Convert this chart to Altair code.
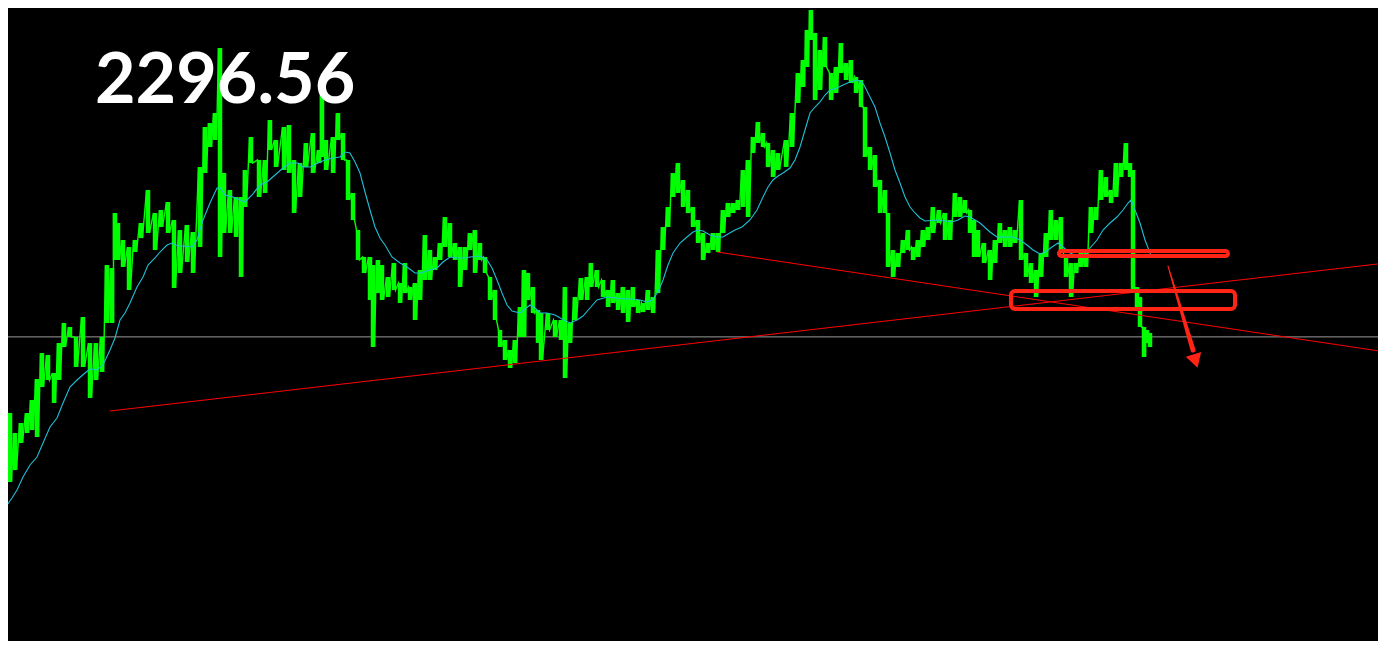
import altair as alt
import pandas as pd

# ---- price bars (bar index, high, low) ----
bar_x = [3, 10, 15, 21, 27, 32, 37, 42, 48, 54, 59, 64, 70, 76, 83, 90, 96, 102, 107, 112,
         115, 118, 123, 129, 135, 141, 148, 155, 161, 168, 174, 180, 187, 193, 200, 205, 210, 215, 220, 224,
         230, 236, 241, 245, 251, 259, 265, 270, 276, 284, 289, 294, 300, 306, 313, 319, 322, 326, 333, 338,
         343, 348, 353, 358, 364, 370, 373, 378, 382, 388, 394, 400, 405, 410, 415, 420, 425, 430, 435, 440,
         445, 450, 455, 460, 465, 470, 475, 480, 485, 490, 495, 500, 505, 510, 515, 520, 524, 528, 533, 538,
         541, 548, 555, 561, 565, 570, 575, 581, 587, 591, 597, 603, 608, 613, 618, 623, 628, 633, 638, 643,
         648, 653, 658, 663, 668, 673, 678, 683, 688, 693, 698, 703, 708, 713, 718, 723, 728, 733, 738, 743,
         748, 753, 758, 763, 768, 773, 778, 786, 792, 798, 803, 807, 811, 815, 820, 825, 831, 836, 841, 846,
         851, 856, 861, 865, 870, 875, 880, 885, 888, 893, 898, 903, 908, 913, 918, 923, 928, 933, 939, 945,
         950, 955, 960, 965, 970, 974, 978, 984, 990, 995, 1000, 1005, 1010, 1015, 1021, 1026, 1031, 1036, 1041, 1046,
         1051, 1056, 1061, 1066, 1071, 1076, 1081, 1086, 1091, 1096, 1101, 1106, 1111, 1116, 1121, 1126, 1130, 1133, 1137, 1140,
         1144, 1147, 1150]
bar_hi = [2263.5, 2258.5, 2248.5, 2253.5, 2258.5, 2265, 2275.5, 2288.5, 2287.5, 2278.5, 2293.5, 2303.5, 2301.5, 2296.5, 2306.5, 2293.5, 2293.5, 2296.5, 2332.5, 2331,
          2358.5, 2353.5, 2345, 2341.5, 2345, 2353.5, 2370, 2358.5, 2360, 2364, 2355, 2350, 2352.5, 2349, 2381.5, 2401.5, 2403.5, 2408.5, 2441, 2378.5,
          2370, 2366.5, 2366.5, 2380, 2396.5, 2385, 2385, 2405, 2395, 2401.5, 2402.5, 2385, 2383.5, 2393.5, 2398.5, 2390, 2417.5, 2395, 2396.5, 2408.5,
          2398.5, 2385, 2368.5, 2350, 2336.5, 2336.5, 2332.5, 2335, 2332.5, 2326.5, 2333.5, 2323.5, 2333.5, 2321.5, 2323.5, 2330, 2347.5, 2340, 2336.5, 2343.5,
          2356.5, 2353.5, 2343.5, 2341.5, 2341.5, 2348.5, 2350, 2343.5, 2336.5, 2326.5, 2320, 2300, 2295, 2290, 2295, 2311.5, 2330, 2328.5, 2321.5, 2310,
          2308.5, 2308.5, 2305, 2305, 2321.5, 2303.5, 2316.5, 2326, 2326.5, 2333.5, 2330, 2325, 2320, 2325, 2318.5, 2321.5, 2320, 2321.5, 2315, 2313.5,
          2320, 2316.5, 2340, 2351.5, 2361.5, 2378.5, 2383.5, 2375, 2370, 2361.5, 2355, 2348.5, 2343.5, 2348.5, 2348.5, 2360, 2363.5, 2363.5, 2365, 2380,
          2385, 2396.5, 2404, 2398.5, 2393.5, 2390, 2388.5, 2395, 2408.5, 2428.5, 2435, 2450, 2460, 2448.5, 2440, 2446.5, 2428.5, 2431.5, 2443.5, 2433.5,
          2435, 2426.5, 2425, 2411.5, 2391.5, 2387.5, 2375, 2370, 2358.5, 2340, 2338.5, 2345, 2350, 2341.5, 2345, 2350, 2351.5, 2361.5, 2360, 2358.5,
          2355, 2368.5, 2366.5, 2365, 2360, 2355, 2350, 2343.5, 2340, 2345, 2353.5, 2350, 2351.5, 2350, 2365, 2338.5, 2333.5, 2330, 2338.5, 2348.5,
          2360, 2355, 2356.5, 2336.5, 2333.5, 2333.5, 2338.5, 2338.5, 2361.5, 2361.5, 2380, 2376.5, 2370, 2383.5, 2383.5, 2393.5, 2383.5, 2380, 2321.5, 2316.5,
          2301.5, 2300, 2298.5]
bar_lo = [2251.5, 2224, 2230, 2243.5, 2248.5, 2250, 2246.5, 2271.5, 2275, 2263.5, 2275, 2291.5, 2296.5, 2281.5, 2281.5, 2266, 2275, 2279, 2303.5, 2303.5,
          2335, 2335, 2331.5, 2320, 2339, 2346, 2348.5, 2340, 2351.5, 2348.5, 2321, 2328.5, 2334, 2328.5, 2341.5, 2378.5, 2391.5, 2395, 2336.5, 2348.5,
          2348.5, 2346.5, 2326.5, 2361.5, 2383.5, 2366.5, 2368.5, 2390, 2381.5, 2380, 2378.5, 2358.5, 2366.5, 2381.5, 2378.5, 2383.5, 2386.5, 2380, 2378.5, 2395,
          2385, 2365, 2355, 2335, 2328.5, 2315, 2291.5, 2318.5, 2315, 2316.5, 2320, 2313.5, 2318.5, 2315, 2305, 2315, 2325, 2325, 2330, 2335,
          2341.5, 2336.5, 2335, 2321.5, 2330, 2340, 2328.5, 2335, 2328.5, 2315, 2305, 2291.5, 2285, 2281, 2283.5, 2296.5, 2296.5, 2315, 2308.5, 2293.5,
          2285, 2300, 2296.5, 2295, 2276, 2293.5, 2305, 2315, 2315, 2321.5, 2321.5, 2316.5, 2311.5, 2313.5, 2310, 2308.5, 2304, 2311.5, 2308.5, 2309,
          2310, 2308.5, 2318.5, 2340, 2351.5, 2366.5, 2368.5, 2361.5, 2358.5, 2351.5, 2343.5, 2335, 2338.5, 2340, 2339, 2348.5, 2356.5, 2358.5, 2360, 2361.5,
          2356.5, 2388.5, 2393.5, 2391.5, 2381.5, 2376.5, 2380, 2381.5, 2391.5, 2413.5, 2421.5, 2431.5, 2445, 2415, 2420, 2431.5, 2415, 2418.5, 2428.5, 2425,
          2423.5, 2418.5, 2411.5, 2386.5, 2380, 2371.5, 2358.5, 2358.5, 2331.5, 2326.5, 2331.5, 2338.5, 2340, 2335, 2336.5, 2341.5, 2345, 2348.5, 2353.5, 2345,
          2345, 2356.5, 2356.5, 2358.5, 2348.5, 2336.5, 2336.5, 2333.5, 2325, 2333.5, 2343.5, 2341.5, 2341.5, 2343.5, 2335, 2326.5, 2323.5, 2316.5, 2326.5, 2336.5,
          2345, 2345, 2340, 2326.5, 2316.5, 2328.5, 2331.5, 2331.5, 2348.5, 2355, 2365, 2366.5, 2363.5, 2366.5, 2376.5, 2380, 2376.5, 2320, 2310, 2301.5,
          2286.5, 2293.5, 2291.5]

# ---- moving average (bar index, value) ----
ma_x = [0, 3, 7, 12, 17, 23, 30, 37, 43, 50, 57, 63, 70, 77, 85, 90, 97, 103, 110, 115,
        120, 125, 130, 137, 143, 148, 155, 160, 167, 172, 178, 185, 192, 197, 203, 210, 217, 220, 225, 233,
        240, 245, 252, 260, 267, 275, 283, 290, 298, 303, 310, 318, 325, 333, 340, 345, 350, 355, 360, 365,
        370, 375, 380, 385, 392, 400, 407, 415, 420, 430, 437, 443, 450, 457, 465, 470, 480, 487, 492, 497,
        502, 507, 512, 520, 525, 530, 535, 540, 547, 555, 562, 570, 577, 583, 590, 597, 607, 615, 625, 633,
        640, 647, 652, 658, 663, 668, 673, 680, 687, 693, 698, 703, 710, 717, 723, 728, 735, 742, 750, 757,
        763, 768, 773, 778, 783, 790, 795, 800, 805, 810, 815, 820, 825, 830, 837, 843, 850, 857, 862, 865,
        870, 875, 880, 885, 890, 895, 900, 905, 910, 915, 920, 925, 937, 945, 952, 958, 965, 970, 980, 990,
        997, 1005, 1013, 1020, 1027, 1033, 1040, 1045, 1052, 1058, 1063, 1070, 1077, 1085, 1090, 1097, 1103, 1110, 1117, 1123,
        1128, 1131, 1135, 1140, 1145, 1150, 1152]
ma_v = [2197.5, 2206.5, 2212.5, 2216, 2220, 2226.5, 2232.5, 2236.5, 2243.5, 2251.5, 2256, 2263.5, 2271.5, 2275, 2278.5, 2280.5, 2280, 2282.5, 2290, 2296,
        2305, 2308.5, 2313.5, 2321.5, 2326.5, 2332.5, 2336, 2339, 2342.5, 2343.5, 2342, 2342, 2341.5, 2345, 2355, 2363.5, 2371, 2371, 2367.5, 2366.5,
        2365, 2364, 2367.5, 2372.5, 2374, 2377.5, 2381, 2383.5, 2383.5, 2381.5, 2381.5, 2383.5, 2385, 2386, 2386.5, 2389, 2388.5, 2384, 2378.5, 2369,
        2360, 2351.5, 2346, 2342.5, 2336.5, 2333.5, 2331.5, 2328.5, 2328.5, 2330, 2331, 2334, 2336.5, 2336, 2336, 2336.5, 2337, 2335, 2331, 2325,
        2318.5, 2312.5, 2309.5, 2308.5, 2310.5, 2312.5, 2311, 2308.5, 2308.5, 2307.5, 2305.5, 2303.5, 2305, 2307, 2311, 2315, 2316.5, 2316, 2315.5, 2315.5,
        2315, 2314, 2315, 2319, 2325, 2332.5, 2338.5, 2343.5, 2346.5, 2349, 2350, 2349.5, 2347.5, 2346.5, 2346.5, 2348, 2350, 2351.5, 2355, 2360,
        2366.5, 2371.5, 2375, 2377, 2378.5, 2381, 2385, 2391.5, 2400, 2408.5, 2411.5, 2414, 2417.5, 2420, 2421, 2422.5, 2424, 2425, 2424, 2421.5,
        2416.5, 2411.5, 2403.5, 2396.5, 2388.5, 2380, 2373.5, 2366.5, 2361.5, 2358.5, 2356, 2354.5, 2355, 2354.5, 2354, 2355, 2357, 2356.5, 2353.5, 2349,
        2346.5, 2346.5, 2346.5, 2345, 2342.5, 2340, 2338, 2339, 2341.5, 2343.5, 2341.5, 2338.5, 2337, 2337.5, 2341, 2345, 2350, 2353.5, 2356.5, 2360,
        2363.5, 2365, 2360, 2353.5, 2345, 2338.5, 2336]

# ---- annotations ----
last_price = 2296.56
label_text = "2296.56"
trend_up = {"x": [110, 1386], "p": [2259.5, 2333.5]}
trend_down = {"x": [717, 1386], "p": [2339, 2289]}
box_x = [1059, 1011]
box_x2 = [1228, 1235]
box_p = [2339.5, 2319.5]
box_p2 = [2337, 2310.5]
arrow_x = [1168, 1193]
arrow_p = [2332, 2290]
arrow_w = [1.0, 5.0]
head_x = [1195.5]
head_p = [2284.5]

# ---- scales (plot spans bar 8..1378, 0.5 price per pixel) ----
W, H = 1370, 633
X0 = 8
P_TOP = 2461.0
xs = alt.Scale(domain=[X0, X0 + W], nice=False, zero=False)
ys = alt.Scale(domain=[P_TOP - H * 0.5, P_TOP], nice=False, zero=False)
noax = None

bars = pd.DataFrame({"x": bar_x, "hi": bar_hi, "lo": bar_lo})
zz_rows = []
for i, (bx, h, l) in enumerate(zip(bar_x, bar_hi, bar_lo)):
    zz_rows.append({"x": bx - 1.5, "p": h, "o": 2 * i})
    zz_rows.append({"x": bx + 1.5, "p": l, "o": 2 * i + 1})
zz = pd.DataFrame(zz_rows)
ma = pd.DataFrame({"x": ma_x, "p": ma_v})

X = lambda f="x": alt.X(f"{f}:Q", scale=xs, axis=noax)
Y = lambda f="p": alt.Y(f"{f}:Q", scale=ys, axis=noax)

hline = alt.Chart(pd.DataFrame({"p": [last_price]})).mark_rule(
    color="#9a9a9a", strokeWidth=1, clip=True).encode(y=Y())

bar_layer = alt.Chart(bars).mark_rule(color="#00ff00", strokeWidth=4.5, clip=True).encode(
    x=X(), y=Y("hi"), y2="lo:Q")
zig = alt.Chart(zz).mark_line(color="#00ff00", strokeWidth=1.4, interpolate="linear", clip=True).encode(
    x=X(), y=Y(), order="o:Q")

ma_line = alt.Chart(ma).mark_line(color="#1fbfd6", strokeWidth=1.1, clip=True).encode(x=X(), y=Y())

tu = alt.Chart(pd.DataFrame(trend_up)).mark_line(color="#ff0000", strokeWidth=1, clip=True).encode(x=X(), y=Y())
td = alt.Chart(pd.DataFrame(trend_down)).mark_line(color="#ff0000", strokeWidth=1, clip=True).encode(x=X(), y=Y())

boxes = alt.Chart(pd.DataFrame({"x": box_x, "x2": box_x2, "p": box_p, "p2": box_p2})).mark_rect(
    fill=None, filled=False, stroke="#ff2416", strokeWidth=4, cornerRadius=4, clip=True).encode(
    x=X(), x2="x2:Q", y=Y(), y2="p2:Q")

shaft = alt.Chart(pd.DataFrame({"x": arrow_x, "p": arrow_p, "w": arrow_w})).mark_trail(
    color="#ff2416", clip=True).encode(x=X(), y=Y(), size=alt.Size("w:Q", scale=None, legend=None))
head = alt.Chart(pd.DataFrame({"x": head_x, "p": head_p})).mark_point(
    shape="triangle-down", filled=True, color="#ff2416", size=260, angle=343, opacity=1, clip=True).encode(
    x=X(), y=Y())

label = alt.Chart(pd.DataFrame({"x": [95], "p": [2413.5], "t": [label_text]})).mark_text(
    color="white", font="Lato", fontSize=70, fontWeight="bold", align="left", baseline="alphabetic",
    clip=True).encode(x=X(), y=Y(), text="t:N")

chart = alt.layer(hline, bar_layer, zig, ma_line, tu, td, boxes, shaft, head, label).properties(
    width=W, height=H, padding=0, background="black",
    autosize=alt.AutoSizeParams(type="fit", contains="padding"),
).configure_view(strokeWidth=0, fill="black")

chart.save("out.html", embed_options={"renderer": "svg", "actions": False})
